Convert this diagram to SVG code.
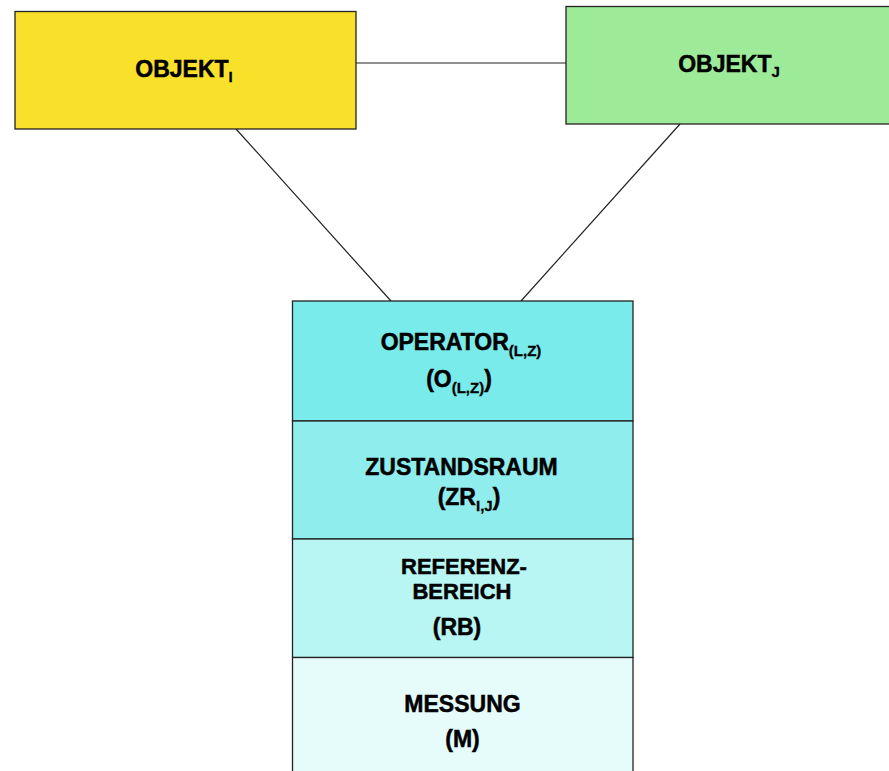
<svg xmlns="http://www.w3.org/2000/svg" width="889" height="771" viewBox="0 0 889 771">
<style>
.box{stroke:#222;stroke-width:1.3}
.conn{stroke:#222;stroke-width:1.2;fill:none}
text{font-family:"Liberation Sans",Arial,sans-serif;font-weight:bold;fill:#000;stroke:#000;stroke-width:0.5;text-anchor:middle}
.t{font-size:23px}
.r{font-size:22px}
.s{font-size:15px;stroke-width:0.3}
</style>
<rect width="889" height="771" fill="#fff"/>
<g id="connectors">
<line class="conn" x1="356" y1="63" x2="566" y2="63"/>
<line class="conn" x1="236" y1="129" x2="391" y2="301"/>
<line class="conn" x1="680" y1="124" x2="521" y2="301"/>
</g>
<g id="objekt-i">
<rect class="box" x="15" y="11.5" width="341" height="117.5" fill="#F9E12B"/>
<text class="t" x="184" y="77">OBJEKT<tspan class="s" dy="5">I</tspan></text>
</g>
<g id="objekt-j">
<rect class="box" x="566" y="6.5" width="330" height="117.5" fill="#9DEB98"/>
<text class="t" x="729" y="72">OBJEKT<tspan class="s" dy="5">J</tspan></text>
</g>
<g id="operator">
<rect class="box" x="292.5" y="301" width="340.5" height="120" fill="#7AEBEB"/>
<text class="t" x="461" y="350">OPERATOR<tspan class="s" dy="6">(L,Z)</tspan></text>
<text class="t" x="459" y="387">(O<tspan class="s" dy="6">(L,Z)</tspan><tspan dy="-6">)</tspan></text>
</g>
<g id="zustandsraum">
<rect class="box" x="292.5" y="421" width="340.5" height="118" fill="#8FEDED"/>
<text class="t" x="461.5" y="475">ZUSTANDSRAUM</text>
<text class="t" x="469" y="505">(ZR<tspan class="s" dy="6">I,J</tspan><tspan dy="-6">)</tspan></text>
</g>
<g id="referenzbereich">
<rect class="box" x="292.5" y="539" width="340.5" height="118.5" fill="#B8F6F3"/>
<text class="r" x="464" y="574">REFERENZ-</text>
<text class="r" x="462" y="599">BEREICH</text>
<text class="t" x="457" y="635">(RB)</text>
</g>
<g id="messung">
<rect class="box" x="292.5" y="657.5" width="340.5" height="120" fill="#E6FCFB"/>
<text class="t" x="462.5" y="712">MESSUNG</text>
<text class="t" x="462.5" y="747">(M)</text>
</g>
</svg>
